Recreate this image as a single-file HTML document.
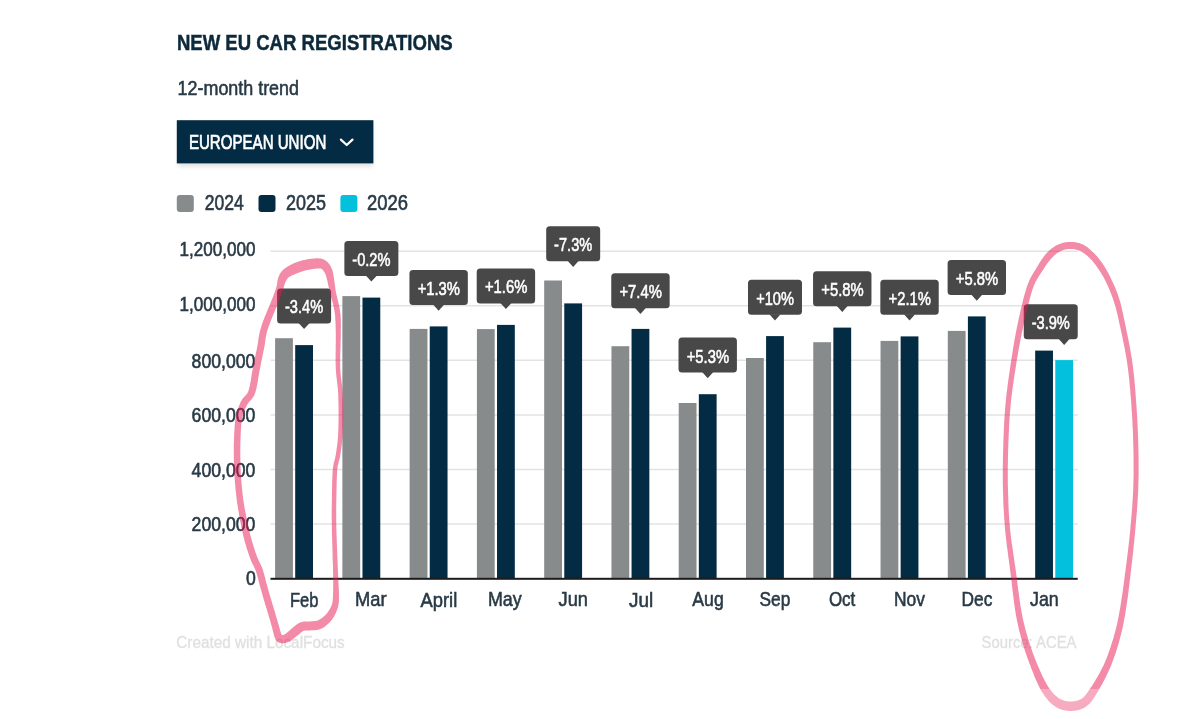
<!DOCTYPE html>
<html><head><meta charset="utf-8"><title>New EU car registrations</title>
<style>
html,body{margin:0;padding:0;background:#fff;width:1200px;height:719px;overflow:hidden}
svg{display:block;font-family:"Liberation Sans",sans-serif;will-change:transform}
</style></head><body>
<svg width="1200" height="719" viewBox="0 0 1200 719">
<rect width="1200" height="719" fill="#ffffff"/>
<text x="176.90" y="49.70" font-size="22.5" fill="#0d2a3c" font-weight="bold" stroke="#0d2a3c" stroke-width="0.5" textLength="275.80" lengthAdjust="spacingAndGlyphs">NEW EU CAR REGISTRATIONS</text>
<text x="177.60" y="94.70" font-size="21" fill="#283a46" font-weight="normal" stroke="#283a46" stroke-width="0.6" textLength="121.40" lengthAdjust="spacingAndGlyphs">12-month trend</text>
<defs><filter id="sh" x="-10%" y="-30%" width="120%" height="160%"><feGaussianBlur stdDeviation="2"/></filter></defs>
<rect x="178" y="124" width="195" height="43" fill="#000" opacity="0.10" filter="url(#sh)"/>
<rect x="176.8" y="120.2" width="196.6" height="43.2" fill="#032c44"/>
<text x="188.90" y="149.00" font-size="19.6" fill="#ffffff" font-weight="normal" stroke="#ffffff" stroke-width="0.7" textLength="137.40" lengthAdjust="spacingAndGlyphs">EUROPEAN UNION</text>
<path d="M340.9 139.6 L346.7 145.0 L352.5 139.6" fill="none" stroke="#ffffff" stroke-width="2.2" stroke-linecap="round" stroke-linejoin="round"/>
<rect x="176.8" y="195.1" width="17" height="17" rx="3" fill="#888b8c"/>
<rect x="258.5" y="195.1" width="17" height="17" rx="3" fill="#032c44"/>
<rect x="340.4" y="195.1" width="17" height="17" rx="3" fill="#03c1dc"/>
<text x="204.70" y="209.70" font-size="21.5" fill="#293a46" font-weight="normal" stroke="#293a46" stroke-width="0.6" textLength="39.00" lengthAdjust="spacingAndGlyphs">2024</text>
<text x="286.10" y="209.70" font-size="21.5" fill="#293a46" font-weight="normal" stroke="#293a46" stroke-width="0.6" textLength="40.00" lengthAdjust="spacingAndGlyphs">2025</text>
<text x="367.00" y="209.70" font-size="21.5" fill="#293a46" font-weight="normal" stroke="#293a46" stroke-width="0.6" textLength="41.00" lengthAdjust="spacingAndGlyphs">2026</text>
<line x1="270.5" y1="251.30" x2="1077.74" y2="251.30" stroke="#e3e3e3" stroke-width="1.5"/>
<line x1="270.5" y1="305.83" x2="1077.74" y2="305.83" stroke="#e3e3e3" stroke-width="1.5"/>
<line x1="270.5" y1="360.36" x2="1077.74" y2="360.36" stroke="#e3e3e3" stroke-width="1.5"/>
<line x1="270.5" y1="414.89" x2="1077.74" y2="414.89" stroke="#e3e3e3" stroke-width="1.5"/>
<line x1="270.5" y1="469.42" x2="1077.74" y2="469.42" stroke="#e3e3e3" stroke-width="1.5"/>
<line x1="270.5" y1="523.95" x2="1077.74" y2="523.95" stroke="#e3e3e3" stroke-width="1.5"/>
<text x="179.40" y="256.40" font-size="20.3" fill="#293a46" font-weight="normal" stroke="#293a46" stroke-width="0.6" textLength="76.00" lengthAdjust="spacingAndGlyphs">1,200,000</text>
<text x="179.40" y="310.99" font-size="20.3" fill="#293a46" font-weight="normal" stroke="#293a46" stroke-width="0.6" textLength="76.00" lengthAdjust="spacingAndGlyphs">1,000,000</text>
<text x="191.60" y="367.70" font-size="20.3" fill="#293a46" font-weight="normal" stroke="#293a46" stroke-width="0.6" textLength="63.80" lengthAdjust="spacingAndGlyphs">800,000</text>
<text x="191.60" y="422.29" font-size="20.3" fill="#293a46" font-weight="normal" stroke="#293a46" stroke-width="0.6" textLength="63.80" lengthAdjust="spacingAndGlyphs">600,000</text>
<text x="191.60" y="476.88" font-size="20.3" fill="#293a46" font-weight="normal" stroke="#293a46" stroke-width="0.6" textLength="63.80" lengthAdjust="spacingAndGlyphs">400,000</text>
<text x="191.60" y="531.47" font-size="20.3" fill="#293a46" font-weight="normal" stroke="#293a46" stroke-width="0.6" textLength="63.80" lengthAdjust="spacingAndGlyphs">200,000</text>
<text x="246.10" y="585.00" font-size="20.3" fill="#293a46" font-weight="normal" stroke="#293a46" stroke-width="0.6" textLength="9.80" lengthAdjust="spacingAndGlyphs">0</text>
<rect x="275.10" y="338.20" width="17.8" height="239.80" fill="#888b8c"/>
<rect x="295.20" y="345.10" width="17.8" height="232.90" fill="#032c44"/>
<rect x="342.37" y="296.10" width="17.8" height="281.90" fill="#888b8c"/>
<rect x="362.47" y="297.60" width="17.8" height="280.40" fill="#032c44"/>
<rect x="409.64" y="328.90" width="17.8" height="249.10" fill="#888b8c"/>
<rect x="429.74" y="326.40" width="17.8" height="251.60" fill="#032c44"/>
<rect x="476.91" y="329.10" width="17.8" height="248.90" fill="#888b8c"/>
<rect x="497.01" y="324.90" width="17.8" height="253.10" fill="#032c44"/>
<rect x="544.18" y="280.50" width="17.8" height="297.50" fill="#888b8c"/>
<rect x="564.28" y="303.40" width="17.8" height="274.60" fill="#032c44"/>
<rect x="611.45" y="346.20" width="17.8" height="231.80" fill="#888b8c"/>
<rect x="631.55" y="328.90" width="17.8" height="249.10" fill="#032c44"/>
<rect x="678.72" y="403.00" width="17.8" height="175.00" fill="#888b8c"/>
<rect x="698.82" y="394.20" width="17.8" height="183.80" fill="#032c44"/>
<rect x="745.99" y="358.00" width="17.8" height="220.00" fill="#888b8c"/>
<rect x="766.09" y="336.10" width="17.8" height="241.90" fill="#032c44"/>
<rect x="813.26" y="342.20" width="17.8" height="235.80" fill="#888b8c"/>
<rect x="833.36" y="327.60" width="17.8" height="250.40" fill="#032c44"/>
<rect x="880.53" y="340.90" width="17.8" height="237.10" fill="#888b8c"/>
<rect x="900.63" y="336.40" width="17.8" height="241.60" fill="#032c44"/>
<rect x="947.80" y="330.90" width="17.8" height="247.10" fill="#888b8c"/>
<rect x="967.90" y="316.40" width="17.8" height="261.60" fill="#032c44"/>
<rect x="1035.17" y="350.60" width="17.8" height="227.40" fill="#032c44"/>
<rect x="1055.27" y="360.10" width="17.8" height="217.90" fill="#03c1dc"/>
<rect x="270.5" y="577.8" width="807.24" height="2" fill="#1c1c1c"/>
<text x="290.00" y="606.60" font-size="21" fill="#293a46" font-weight="normal" stroke="#293a46" stroke-width="0.6" textLength="28.40" lengthAdjust="spacingAndGlyphs">Feb</text>
<text x="354.90" y="605.60" font-size="21" fill="#293a46" font-weight="normal" stroke="#293a46" stroke-width="0.6" textLength="31.60" lengthAdjust="spacingAndGlyphs">Mar</text>
<text x="420.50" y="606.60" font-size="21" fill="#293a46" font-weight="normal" stroke="#293a46" stroke-width="0.6" textLength="36.80" lengthAdjust="spacingAndGlyphs">April</text>
<text x="487.90" y="605.60" font-size="21" fill="#293a46" font-weight="normal" stroke="#293a46" stroke-width="0.6" textLength="33.80" lengthAdjust="spacingAndGlyphs">May</text>
<text x="558.60" y="605.60" font-size="21" fill="#293a46" font-weight="normal" stroke="#293a46" stroke-width="0.6" textLength="29.40" lengthAdjust="spacingAndGlyphs">Jun</text>
<text x="629.10" y="606.60" font-size="21" fill="#293a46" font-weight="normal" stroke="#293a46" stroke-width="0.6" textLength="24.20" lengthAdjust="spacingAndGlyphs">Jul</text>
<text x="692.30" y="605.60" font-size="21" fill="#293a46" font-weight="normal" stroke="#293a46" stroke-width="0.6" textLength="31.40" lengthAdjust="spacingAndGlyphs">Aug</text>
<text x="759.50" y="605.60" font-size="21" fill="#293a46" font-weight="normal" stroke="#293a46" stroke-width="0.6" textLength="30.80" lengthAdjust="spacingAndGlyphs">Sep</text>
<text x="828.90" y="605.60" font-size="21" fill="#293a46" font-weight="normal" stroke="#293a46" stroke-width="0.6" textLength="26.40" lengthAdjust="spacingAndGlyphs">Oct</text>
<text x="894.00" y="605.60" font-size="21" fill="#293a46" font-weight="normal" stroke="#293a46" stroke-width="0.6" textLength="31.00" lengthAdjust="spacingAndGlyphs">Nov</text>
<text x="961.50" y="605.60" font-size="21" fill="#293a46" font-weight="normal" stroke="#293a46" stroke-width="0.6" textLength="30.80" lengthAdjust="spacingAndGlyphs">Dec</text>
<text x="1030.00" y="605.60" font-size="21" fill="#293a46" font-weight="normal" stroke="#293a46" stroke-width="0.6" textLength="28.80" lengthAdjust="spacingAndGlyphs">Jan</text>
<rect x="277.10" y="288.40" width="54.0" height="35.0" rx="3.5" fill="#484848"/>
<path d="M298.50 322.90 L304.10 329.10 L309.70 322.90 Z" fill="#484848"/>
<text x="285.00" y="313.30" font-size="17.7" fill="#ffffff" font-weight="normal" stroke="#ffffff" stroke-width="0.55" textLength="38.20" lengthAdjust="spacingAndGlyphs">-3.4%</text>
<rect x="344.37" y="240.90" width="54.0" height="35.0" rx="3.5" fill="#484848"/>
<path d="M365.77 275.40 L371.37 281.60 L376.97 275.40 Z" fill="#484848"/>
<text x="352.27" y="265.80" font-size="17.7" fill="#ffffff" font-weight="normal" stroke="#ffffff" stroke-width="0.55" textLength="38.20" lengthAdjust="spacingAndGlyphs">-0.2%</text>
<rect x="409.44" y="270.00" width="58.4" height="35.0" rx="3.5" fill="#484848"/>
<path d="M433.04 304.50 L438.64 310.70 L444.24 304.50 Z" fill="#484848"/>
<text x="417.64" y="294.90" font-size="17.7" fill="#ffffff" font-weight="normal" stroke="#ffffff" stroke-width="0.55" textLength="42.40" lengthAdjust="spacingAndGlyphs">+1.3%</text>
<rect x="476.71" y="268.40" width="58.4" height="35.0" rx="3.5" fill="#484848"/>
<path d="M500.31 302.90 L505.91 309.10 L511.51 302.90 Z" fill="#484848"/>
<text x="484.91" y="293.30" font-size="17.7" fill="#ffffff" font-weight="normal" stroke="#ffffff" stroke-width="0.55" textLength="42.40" lengthAdjust="spacingAndGlyphs">+1.6%</text>
<rect x="546.18" y="226.30" width="54.0" height="35.0" rx="3.5" fill="#484848"/>
<path d="M567.58 260.80 L573.18 267.00 L578.78 260.80 Z" fill="#484848"/>
<text x="554.08" y="251.20" font-size="17.7" fill="#ffffff" font-weight="normal" stroke="#ffffff" stroke-width="0.55" textLength="38.20" lengthAdjust="spacingAndGlyphs">-7.3%</text>
<rect x="611.25" y="273.20" width="58.4" height="35.0" rx="3.5" fill="#484848"/>
<path d="M634.85 307.70 L640.45 313.90 L646.05 307.70 Z" fill="#484848"/>
<text x="619.45" y="298.10" font-size="17.7" fill="#ffffff" font-weight="normal" stroke="#ffffff" stroke-width="0.55" textLength="42.40" lengthAdjust="spacingAndGlyphs">+7.4%</text>
<rect x="678.52" y="337.60" width="58.4" height="35.0" rx="3.5" fill="#484848"/>
<path d="M702.12 372.10 L707.72 378.30 L713.32 372.10 Z" fill="#484848"/>
<text x="686.72" y="362.50" font-size="17.7" fill="#ffffff" font-weight="normal" stroke="#ffffff" stroke-width="0.55" textLength="42.40" lengthAdjust="spacingAndGlyphs">+5.3%</text>
<rect x="747.99" y="279.70" width="54.0" height="35.0" rx="3.5" fill="#484848"/>
<path d="M769.39 314.20 L774.99 320.40 L780.59 314.20 Z" fill="#484848"/>
<text x="756.19" y="304.60" font-size="17.7" fill="#ffffff" font-weight="normal" stroke="#ffffff" stroke-width="0.55" textLength="37.80" lengthAdjust="spacingAndGlyphs">+10%</text>
<rect x="813.06" y="271.30" width="58.4" height="35.0" rx="3.5" fill="#484848"/>
<path d="M836.66 305.80 L842.26 312.00 L847.86 305.80 Z" fill="#484848"/>
<text x="821.26" y="296.20" font-size="17.7" fill="#ffffff" font-weight="normal" stroke="#ffffff" stroke-width="0.55" textLength="42.40" lengthAdjust="spacingAndGlyphs">+5.8%</text>
<rect x="880.33" y="279.70" width="58.4" height="35.0" rx="3.5" fill="#484848"/>
<path d="M903.93 314.20 L909.53 320.40 L915.13 314.20 Z" fill="#484848"/>
<text x="888.53" y="304.60" font-size="17.7" fill="#ffffff" font-weight="normal" stroke="#ffffff" stroke-width="0.55" textLength="42.40" lengthAdjust="spacingAndGlyphs">+2.1%</text>
<rect x="947.60" y="260.00" width="58.4" height="35.0" rx="3.5" fill="#484848"/>
<path d="M971.20 294.50 L976.80 300.70 L982.40 294.50 Z" fill="#484848"/>
<text x="955.80" y="284.90" font-size="17.7" fill="#ffffff" font-weight="normal" stroke="#ffffff" stroke-width="0.55" textLength="42.40" lengthAdjust="spacingAndGlyphs">+5.8%</text>
<rect x="1023.74" y="304.20" width="54.0" height="35.0" rx="3.5" fill="#484848"/>
<path d="M1058.57 338.70 L1064.17 344.90 L1069.77 338.70 Z" fill="#484848"/>
<text x="1031.64" y="329.10" font-size="17.7" fill="#ffffff" font-weight="normal" stroke="#ffffff" stroke-width="0.55" textLength="38.20" lengthAdjust="spacingAndGlyphs">-3.9%</text>
<text x="176.30" y="648.00" font-size="17.4" fill="#e0e0e0" font-weight="normal" stroke="#e0e0e0" stroke-width="0.3" textLength="168.40" lengthAdjust="spacingAndGlyphs">Created with LocalFocus</text>
<text x="981.50" y="647.50" font-size="17.4" fill="#e0e0e0" font-weight="normal" stroke="#e0e0e0" stroke-width="0.3" textLength="95.00" lengthAdjust="spacingAndGlyphs">Source: ACEA</text>
<defs><clipPath id="cTop"><rect x="0" y="0" width="1200" height="689"/></clipPath><clipPath id="cBot"><rect x="0" y="689" width="1200" height="40"/></clipPath></defs>
<g stroke="none">
<path fill="rgb(229,21,82)" fill-opacity="0.5" d="M240.4 441.2 L240.5 439.3 L240.6 437.4 L240.6 435.5 L240.7 433.6 L240.8 431.7 L240.9 429.8 L241.0 427.9 L241.2 426.1 L241.3 424.3 L241.5 422.6 L241.7 421.0 L242.0 419.5 L242.3 418.0 L242.6 416.6 L243.0 415.3 L243.3 414.0 L243.7 412.7 L244.2 411.5 L244.6 410.3 L245.1 409.2 L245.5 408.1 L246.0 407.0 L246.5 405.9 L247.0 404.9 L247.5 404.1 L247.9 403.4 L248.5 402.7 L249.0 402.0 L249.7 401.3 L250.4 400.6 L251.2 399.7 L252.0 398.7 L252.8 397.6 L253.6 396.4 L254.3 395.0 L255.0 393.4 L255.5 391.8 L256.0 390.0 L256.5 388.2 L256.8 386.3 L257.2 384.4 L257.6 382.4 L257.9 380.4 L258.2 378.4 L258.5 376.4 L258.9 374.4 L259.2 372.5 L259.5 370.7 L259.9 368.8 L260.3 367.0 L260.7 365.1 L261.0 363.2 L261.4 361.3 L261.8 359.5 L262.2 357.6 L262.6 355.7 L262.9 353.9 L263.3 352.1 L263.7 350.3 L264.0 348.5 L264.4 346.7 L264.7 345.0 L264.9 343.4 L265.1 341.8 L265.4 340.3 L265.6 338.8 L265.8 337.2 L266.1 335.7 L266.5 334.1 L266.8 332.5 L267.3 330.8 L267.8 328.9 L268.5 326.9 L269.3 324.7 L270.2 322.4 L271.1 319.9 L272.2 317.4 L273.2 314.8 L274.3 312.3 L275.3 309.8 L276.3 307.4 L277.2 305.2 L278.0 303.1 L278.8 301.3 L279.4 299.7 L279.9 298.2 L280.4 297.0 L280.8 295.8 L281.1 294.8 L281.4 293.8 L281.7 293.0 L282.0 292.1 L282.3 291.3 L282.6 290.5 L282.8 289.7 L283.1 288.9 L283.5 287.9 L283.8 287.0 L284.0 286.2 L284.3 285.4 L284.5 284.6 L284.8 283.9 L285.0 283.2 L285.2 282.6 L285.5 282.1 L285.7 281.6 L285.9 281.2 L286.2 280.7 L286.5 280.3 L286.8 279.8 L287.0 279.3 L287.3 278.9 L287.5 278.6 L287.8 278.3 L288.0 278.1 L288.2 277.8 L288.5 277.6 L288.8 277.3 L289.2 277.0 L289.6 276.8 L290.1 276.5 L290.7 276.1 L291.3 275.8 L292.0 275.4 L292.8 275.1 L293.6 274.7 L294.4 274.4 L295.2 274.0 L296.1 273.7 L297.0 273.3 L297.8 273.0 L298.6 272.7 L299.4 272.4 L300.3 272.1 L301.1 271.8 L301.9 271.6 L302.8 271.3 L303.6 271.0 L304.5 270.8 L305.4 270.6 L306.2 270.3 L307.1 270.1 L308.0 269.9 L308.8 269.8 L309.7 269.6 L310.6 269.4 L311.5 269.2 L312.5 269.1 L313.4 268.9 L314.3 268.8 L315.2 268.7 L316.1 268.6 L316.9 268.5 L317.6 268.4 L318.2 268.4 L318.8 268.4 L319.2 268.4 L319.6 268.4 L319.9 268.4 L320.1 268.4 L320.3 268.4 L320.4 268.4 L320.5 268.4 L320.6 268.5 L320.8 268.5 L321.0 268.6 L321.3 268.8 L321.6 268.9 L321.8 269.1 L322.1 269.3 L322.3 269.5 L322.6 269.7 L322.9 270.0 L323.1 270.3 L323.4 270.7 L323.7 271.1 L323.9 271.5 L324.2 271.9 L324.5 272.3 L324.7 272.8 L325.0 273.2 L325.2 273.7 L325.4 274.2 L325.6 274.7 L325.8 275.2 L326.0 275.8 L326.1 276.4 L326.3 277.1 L326.5 277.8 L326.7 278.6 L327.0 279.4 L327.2 280.2 L327.4 281.1 L327.6 282.0 L327.8 282.9 L328.0 284.0 L328.3 285.0 L328.5 286.1 L328.7 287.2 L329.0 288.4 L329.2 289.5 L329.4 290.7 L329.7 291.8 L330.0 292.9 L330.3 294.1 L330.6 295.2 L330.9 296.4 L331.2 297.5 L331.5 298.6 L331.8 299.8 L332.2 300.9 L332.5 302.0 L332.8 303.1 L333.0 304.1 L333.3 305.2 L333.5 306.2 L333.7 307.1 L333.9 308.0 L334.1 308.9 L334.2 309.7 L334.4 310.5 L334.5 311.3 L334.6 312.1 L334.8 312.9 L334.9 313.8 L335.0 314.7 L335.1 315.8 L335.2 316.9 L335.2 318.1 L335.3 319.3 L335.4 320.5 L335.5 321.8 L335.5 323.1 L335.6 324.5 L335.6 326.0 L335.7 327.6 L335.7 329.2 L335.7 331.0 L335.8 332.9 L335.8 335.0 L335.8 337.2 L335.8 339.7 L335.8 342.3 L335.7 345.1 L335.7 348.0 L335.7 350.9 L335.6 353.9 L335.6 356.9 L335.6 359.8 L335.6 362.7 L335.7 365.5 L335.8 368.1 L335.9 370.6 L336.1 372.9 L336.3 375.1 L336.5 377.3 L336.8 379.4 L337.0 381.5 L337.3 383.6 L337.5 385.7 L337.8 387.9 L338.0 390.1 L338.1 392.5 L338.3 395.1 L338.3 397.9 L338.4 400.9 L338.5 404.0 L338.5 407.3 L338.6 410.7 L338.6 414.0 L338.6 417.4 L338.5 420.7 L338.5 423.9 L338.4 426.9 L338.3 429.8 L338.3 432.4 L338.1 434.8 L338.0 437.0 L337.8 439.2 L337.6 441.2 L337.4 443.1 L337.2 444.9 L337.0 446.6 L336.7 448.3 L336.5 449.9 L336.3 451.5 L336.0 453.1 L335.8 454.7 L335.5 456.1 L335.3 457.3 L335.0 458.4 L334.8 459.4 L334.5 460.4 L334.2 461.4 L333.9 462.5 L333.7 463.7 L333.4 465.0 L333.2 466.4 L332.9 468.0 L332.8 469.8 L332.6 471.8 L332.5 474.0 L332.4 476.4 L332.3 478.9 L332.2 481.5 L332.1 484.2 L332.1 486.9 L332.0 489.6 L332.0 492.3 L331.9 495.0 L331.9 497.5 L331.9 500.0 L331.8 502.3 L331.8 504.4 L331.8 506.5 L331.7 508.5 L331.7 510.5 L331.7 512.5 L331.7 514.6 L331.7 516.8 L331.7 519.1 L331.8 521.6 L331.8 524.3 L331.9 527.2 L331.9 530.6 L332.0 534.3 L332.1 538.3 L332.2 542.5 L332.4 546.9 L332.5 551.3 L332.6 555.8 L332.7 560.1 L332.9 564.2 L333.0 568.0 L333.0 571.5 L333.1 574.6 L333.1 577.3 L333.2 579.7 L333.2 581.8 L333.2 583.8 L333.2 585.5 L333.2 587.1 L333.2 588.6 L333.2 590.0 L333.1 591.3 L333.1 592.5 L333.0 593.7 L333.0 595.0 L333.0 596.2 L332.9 597.2 L332.9 598.2 L332.8 599.0 L332.8 599.8 L332.7 600.5 L332.6 601.1 L332.6 601.7 L332.4 602.3 L332.3 602.9 L332.2 603.5 L332.0 604.2 L331.7 604.9 L331.5 605.6 L331.2 606.3 L330.9 607.0 L330.5 607.7 L330.2 608.4 L329.8 609.1 L329.4 609.7 L329.0 610.4 L328.6 611.0 L328.2 611.6 L327.8 612.2 L327.4 612.7 L327.0 613.3 L326.6 613.8 L326.1 614.2 L325.7 614.7 L325.2 615.2 L324.8 615.6 L324.3 616.1 L323.8 616.5 L323.3 616.9 L322.8 617.3 L322.3 617.7 L321.8 618.0 L321.4 618.4 L320.9 618.7 L320.4 619.0 L320.0 619.3 L319.5 619.6 L319.1 619.8 L318.7 620.0 L318.3 620.2 L317.8 620.4 L317.4 620.6 L317.0 620.7 L316.6 620.8 L316.2 620.9 L315.8 621.0 L315.2 621.0 L314.6 621.1 L314.0 621.1 L313.4 621.2 L312.7 621.2 L311.9 621.3 L311.2 621.3 L310.4 621.4 L309.6 621.4 L309.0 621.5 L308.4 621.5 L307.8 621.5 L307.1 621.5 L306.4 621.5 L305.6 621.5 L304.8 621.6 L303.9 621.6 L303.0 621.8 L302.1 621.9 L301.1 622.2 L300.1 622.5 L299.1 622.9 L298.3 623.4 L297.4 623.9 L296.7 624.4 L296.0 624.9 L295.4 625.4 L294.8 625.9 L294.2 626.4 L293.7 626.9 L293.2 627.3 L292.7 627.7 L292.2 628.2 L291.6 628.7 L290.9 629.2 L290.3 629.8 L289.6 630.4 L289.0 630.9 L288.4 631.5 L287.8 632.0 L287.2 632.5 L286.7 633.0 L286.2 633.3 L285.8 633.7 L285.4 633.9 L285.0 634.1 L284.6 634.3 L284.3 634.5 L283.9 634.7 L283.6 634.8 L283.3 634.9 L283.0 635.0 L282.7 635.1 L282.5 635.1 L282.3 635.2 L282.2 635.2 L282.0 635.2 L281.8 635.2 L281.5 635.2 L281.5 635.2 L281.5 635.3 L281.7 635.4 L282.0 635.5 L282.2 635.7 L282.3 635.8 L282.3 635.8 L282.2 635.7 L282.0 635.5 L281.8 635.1 L281.6 634.7 L281.3 634.1 L281.1 633.4 L280.8 632.5 L280.5 631.6 L280.2 630.6 L279.9 629.6 L279.6 628.5 L279.3 627.4 L279.0 626.3 L278.7 625.2 L278.4 624.0 L278.0 622.9 L277.7 621.8 L277.4 620.6 L277.0 619.4 L276.7 618.2 L276.3 616.9 L275.9 615.7 L275.6 614.5 L275.2 613.3 L274.9 612.1 L274.6 611.0 L274.3 609.9 L273.9 608.9 L273.6 607.9 L273.4 607.0 L273.1 606.1 L272.8 605.2 L272.5 604.3 L272.3 603.5 L272.0 602.6 L271.7 601.7 L271.5 600.8 L271.2 599.8 L270.9 598.8 L270.5 597.7 L270.2 596.6 L269.9 595.4 L269.5 594.2 L269.2 592.9 L268.8 591.7 L268.5 590.4 L268.1 589.1 L267.7 587.9 L267.4 586.6 L267.0 585.3 L266.7 584.1 L266.3 582.9 L266.0 581.6 L265.7 580.4 L265.4 579.1 L265.1 577.8 L264.7 576.5 L264.4 575.3 L264.1 574.0 L263.7 572.7 L263.3 571.4 L262.9 570.1 L262.5 568.8 L262.0 567.6 L261.5 566.4 L261.0 565.3 L260.5 564.2 L260.0 563.2 L259.5 562.2 L259.0 561.2 L258.5 560.2 L258.1 559.1 L257.6 558.0 L257.1 556.8 L256.6 555.5 L256.1 554.1 L255.5 552.5 L255.0 550.9 L254.5 549.3 L253.9 547.6 L253.4 545.8 L252.8 544.0 L252.3 542.2 L251.7 540.3 L251.2 538.3 L250.6 536.3 L250.1 534.2 L249.6 532.0 L249.0 529.7 L248.5 527.2 L247.9 524.7 L247.4 522.2 L246.8 519.6 L246.3 516.9 L245.8 514.3 L245.3 511.8 L244.8 509.2 L244.4 506.8 L244.0 504.5 L243.7 502.2 L243.3 500.0 L243.0 497.8 L242.8 495.6 L242.5 493.5 L242.3 491.3 L242.1 489.3 L241.9 487.2 L241.7 485.3 L241.5 483.3 L241.4 481.5 L241.2 479.7 L241.1 478.1 L241.0 476.6 L240.9 475.2 L240.8 473.8 L240.7 472.6 L240.7 471.3 L240.6 470.1 L240.6 468.9 L240.5 467.6 L240.5 466.2 L240.5 464.8 L240.4 463.2 L240.4 461.6 L240.4 459.9 L240.4 458.1 L240.3 456.3 L240.3 454.4 L240.3 452.5 L240.3 450.6 L240.3 448.7 L240.3 446.8 L240.3 444.9 L240.4 443.1 Z M233.9 442.9 L233.8 444.8 L233.8 446.7 L233.8 448.7 L233.8 450.6 L233.8 452.6 L233.8 454.5 L233.8 456.3 L233.9 458.2 L233.9 460.0 L233.9 461.7 L234.0 463.4 L234.0 464.9 L234.0 466.4 L234.0 467.8 L234.1 469.1 L234.1 470.3 L234.2 471.6 L234.2 472.9 L234.3 474.2 L234.4 475.6 L234.5 477.0 L234.6 478.6 L234.8 480.3 L234.9 482.1 L235.1 483.9 L235.3 485.8 L235.4 487.8 L235.6 489.9 L235.9 492.0 L236.1 494.2 L236.4 496.4 L236.6 498.6 L236.9 500.9 L237.2 503.2 L237.6 505.5 L238.0 507.9 L238.4 510.4 L238.8 512.9 L239.2 515.5 L239.7 518.2 L240.2 520.9 L240.7 523.5 L241.2 526.1 L241.7 528.7 L242.3 531.2 L242.8 533.6 L243.3 535.8 L243.8 538.0 L244.4 540.1 L244.9 542.2 L245.5 544.1 L246.1 546.1 L246.6 547.9 L247.2 549.7 L247.8 551.5 L248.4 553.2 L248.9 554.8 L249.5 556.4 L250.0 557.9 L250.6 559.4 L251.1 560.7 L251.7 562.0 L252.2 563.2 L252.8 564.3 L253.3 565.3 L253.8 566.3 L254.2 567.3 L254.7 568.2 L255.1 569.2 L255.5 570.1 L255.9 571.2 L256.3 572.3 L256.6 573.4 L257.0 574.6 L257.3 575.8 L257.6 577.0 L258.0 578.3 L258.3 579.5 L258.6 580.8 L258.9 582.1 L259.2 583.4 L259.6 584.7 L259.9 585.9 L260.3 587.2 L260.6 588.5 L261.0 589.7 L261.4 591.0 L261.7 592.3 L262.1 593.6 L262.4 594.9 L262.8 596.1 L263.1 597.3 L263.5 598.5 L263.8 599.7 L264.1 600.8 L264.5 601.8 L264.8 602.8 L265.0 603.8 L265.3 604.7 L265.6 605.6 L265.9 606.4 L266.1 607.3 L266.4 608.2 L266.7 609.0 L267.0 609.9 L267.2 610.9 L267.5 611.9 L267.9 613.0 L268.2 614.1 L268.5 615.2 L268.9 616.4 L269.2 617.7 L269.6 618.9 L270.0 620.1 L270.3 621.3 L270.7 622.5 L271.0 623.7 L271.3 624.9 L271.6 626.0 L271.9 627.0 L272.2 628.1 L272.5 629.2 L272.7 630.3 L273.0 631.4 L273.3 632.5 L273.5 633.6 L273.8 634.6 L274.1 635.6 L274.3 636.5 L274.7 637.4 L275.0 638.3 L275.3 639.0 L275.7 639.7 L276.1 640.3 L276.6 640.9 L277.2 641.5 L277.8 642.1 L278.6 642.5 L279.3 642.8 L279.9 642.9 L280.5 643.1 L280.9 643.1 L281.4 643.2 L282.0 643.2 L282.7 643.3 L283.3 643.2 L284.0 643.2 L284.7 643.1 L285.4 642.9 L286.1 642.7 L286.8 642.5 L287.5 642.3 L288.2 642.0 L288.9 641.7 L289.6 641.3 L290.4 640.9 L291.1 640.4 L291.9 639.9 L292.6 639.3 L293.3 638.8 L294.0 638.2 L294.7 637.7 L295.4 637.1 L296.0 636.6 L296.6 636.1 L297.2 635.7 L297.8 635.2 L298.4 634.7 L299.1 634.2 L299.7 633.7 L300.2 633.2 L300.7 632.7 L301.2 632.3 L301.6 632.0 L302.1 631.7 L302.4 631.4 L302.7 631.2 L303.0 631.0 L303.3 630.9 L303.6 630.8 L303.9 630.7 L304.3 630.7 L304.8 630.6 L305.3 630.6 L305.9 630.5 L306.5 630.5 L307.2 630.5 L308.0 630.5 L308.8 630.5 L309.6 630.4 L310.4 630.4 L311.0 630.3 L311.7 630.3 L312.3 630.3 L313.1 630.2 L313.8 630.2 L314.6 630.2 L315.4 630.1 L316.2 630.0 L317.1 629.9 L318.0 629.8 L318.9 629.6 L319.8 629.3 L320.6 629.0 L321.4 628.6 L322.2 628.3 L322.9 627.9 L323.6 627.5 L324.3 627.0 L324.9 626.6 L325.5 626.1 L326.1 625.6 L326.7 625.1 L327.3 624.6 L327.9 624.1 L328.4 623.6 L329.0 623.0 L329.6 622.4 L330.1 621.8 L330.7 621.2 L331.2 620.6 L331.7 619.9 L332.3 619.2 L332.8 618.5 L333.2 617.7 L333.7 617.0 L334.2 616.2 L334.6 615.4 L335.0 614.6 L335.4 613.8 L335.8 613.0 L336.2 612.1 L336.5 611.2 L336.9 610.4 L337.2 609.5 L337.5 608.6 L337.8 607.7 L338.0 606.7 L338.2 605.8 L338.4 605.0 L338.6 604.1 L338.7 603.3 L338.8 602.5 L338.9 601.7 L338.9 600.9 L339.0 600.1 L339.0 599.3 L339.0 598.3 L339.0 597.3 L339.0 596.3 L339.0 595.0 L339.0 593.8 L338.9 592.5 L338.9 591.2 L338.8 589.9 L338.8 588.5 L338.7 587.0 L338.6 585.4 L338.5 583.6 L338.4 581.7 L338.3 579.5 L338.2 577.1 L338.1 574.4 L338.0 571.4 L337.8 567.9 L337.7 564.0 L337.5 559.9 L337.3 555.6 L337.2 551.2 L337.0 546.8 L336.8 542.4 L336.7 538.2 L336.5 534.2 L336.4 530.5 L336.3 527.2 L336.3 524.2 L336.2 521.5 L336.2 519.0 L336.2 516.7 L336.2 514.6 L336.2 512.5 L336.2 510.5 L336.2 508.6 L336.2 506.6 L336.3 504.5 L336.3 502.3 L336.3 500.0 L336.4 497.6 L336.4 495.0 L336.5 492.4 L336.5 489.7 L336.6 487.0 L336.6 484.3 L336.7 481.6 L336.8 479.1 L336.9 476.6 L337.0 474.3 L337.1 472.1 L337.2 470.2 L337.4 468.5 L337.6 467.1 L337.8 465.8 L338.1 464.7 L338.3 463.6 L338.6 462.6 L338.8 461.6 L339.1 460.6 L339.4 459.5 L339.7 458.2 L340.0 456.9 L340.2 455.3 L340.5 453.8 L340.7 452.2 L340.9 450.6 L341.2 448.9 L341.4 447.2 L341.7 445.4 L341.9 443.6 L342.1 441.6 L342.3 439.6 L342.5 437.4 L342.6 435.1 L342.7 432.6 L342.8 429.9 L342.9 427.0 L343.0 424.0 L343.0 420.7 L343.1 417.4 L343.1 414.0 L343.1 410.6 L343.0 407.3 L343.0 404.0 L342.9 400.8 L342.8 397.7 L342.7 394.9 L342.6 392.3 L342.4 389.8 L342.2 387.4 L342.0 385.2 L341.7 383.0 L341.4 380.9 L341.2 378.9 L340.9 376.8 L340.7 374.7 L340.5 372.5 L340.4 370.3 L340.2 367.9 L340.2 365.4 L340.2 362.7 L340.2 359.8 L340.2 356.9 L340.3 354.0 L340.4 351.0 L340.5 348.1 L340.6 345.2 L340.6 342.4 L340.7 339.8 L340.8 337.3 L340.8 335.0 L340.8 332.9 L340.8 331.0 L340.8 329.2 L340.9 327.5 L340.9 325.9 L340.9 324.4 L340.9 323.0 L340.8 321.6 L340.8 320.3 L340.8 319.0 L340.7 317.8 L340.6 316.5 L340.6 315.3 L340.5 314.2 L340.3 313.2 L340.2 312.2 L340.1 311.3 L339.9 310.4 L339.8 309.5 L339.6 308.7 L339.5 307.8 L339.3 306.9 L339.1 306.0 L338.9 305.0 L338.7 304.0 L338.4 302.9 L338.2 301.7 L337.9 300.6 L337.6 299.5 L337.3 298.3 L337.1 297.2 L336.8 296.0 L336.5 294.9 L336.3 293.8 L336.0 292.7 L335.8 291.7 L335.6 290.6 L335.5 289.5 L335.3 288.4 L335.2 287.3 L335.0 286.2 L334.9 285.1 L334.7 284.0 L334.6 282.9 L334.5 281.8 L334.3 280.8 L334.2 279.7 L334.0 278.8 L333.9 277.9 L333.8 277.1 L333.6 276.3 L333.5 275.5 L333.4 274.8 L333.2 274.0 L333.1 273.3 L332.9 272.5 L332.8 271.8 L332.6 271.1 L332.3 270.3 L332.1 269.6 L331.8 268.9 L331.5 268.2 L331.2 267.6 L330.9 266.9 L330.6 266.2 L330.2 265.6 L329.8 265.0 L329.4 264.3 L328.9 263.7 L328.4 263.1 L327.9 262.6 L327.4 262.1 L326.9 261.6 L326.4 261.2 L325.9 260.8 L325.3 260.4 L324.7 260.0 L324.0 259.6 L323.3 259.3 L322.5 259.0 L321.8 258.8 L320.9 258.6 L320.1 258.5 L319.2 258.4 L318.3 258.3 L317.3 258.3 L316.3 258.3 L315.3 258.4 L314.2 258.5 L313.2 258.5 L312.1 258.7 L311.0 258.8 L309.9 258.9 L308.8 259.1 L307.8 259.3 L306.8 259.4 L305.8 259.6 L304.8 259.9 L303.8 260.1 L302.7 260.3 L301.7 260.6 L300.7 260.9 L299.7 261.2 L298.7 261.5 L297.7 261.8 L296.7 262.2 L295.7 262.5 L294.8 262.9 L293.8 263.3 L292.9 263.8 L291.9 264.2 L290.9 264.7 L290.0 265.2 L289.0 265.7 L288.1 266.3 L287.2 266.8 L286.3 267.4 L285.4 268.0 L284.6 268.6 L283.8 269.2 L283.1 269.9 L282.4 270.5 L281.8 271.2 L281.3 271.9 L280.8 272.5 L280.3 273.2 L279.9 273.9 L279.6 274.6 L279.2 275.2 L279.0 275.9 L278.7 276.5 L278.4 277.3 L278.1 278.1 L277.9 278.9 L277.7 279.8 L277.5 280.6 L277.4 281.4 L277.3 282.1 L277.2 282.9 L277.1 283.7 L277.0 284.4 L276.8 285.2 L276.7 285.9 L276.5 286.7 L276.2 287.6 L276.0 288.4 L275.7 289.2 L275.5 289.9 L275.2 290.7 L274.9 291.6 L274.6 292.5 L274.2 293.5 L273.8 294.6 L273.4 295.8 L272.8 297.2 L272.2 298.7 L271.5 300.5 L270.7 302.5 L269.8 304.7 L268.8 307.1 L267.8 309.6 L266.7 312.1 L265.7 314.7 L264.6 317.3 L263.6 319.9 L262.7 322.3 L261.9 324.7 L261.2 326.9 L260.6 328.9 L260.1 330.8 L259.6 332.6 L259.3 334.4 L259.0 336.0 L258.7 337.7 L258.4 339.2 L258.2 340.8 L258.0 342.3 L257.7 343.9 L257.5 345.5 L257.2 347.1 L256.8 348.9 L256.5 350.7 L256.1 352.5 L255.7 354.3 L255.3 356.2 L255.0 358.1 L254.6 359.9 L254.2 361.8 L253.8 363.7 L253.4 365.6 L253.0 367.5 L252.7 369.3 L252.3 371.3 L251.9 373.2 L251.6 375.2 L251.3 377.3 L251.0 379.3 L250.7 381.2 L250.3 383.1 L250.0 384.9 L249.6 386.7 L249.2 388.3 L248.8 389.7 L248.4 391.0 L248.0 392.0 L247.5 392.9 L247.0 393.7 L246.5 394.4 L245.9 395.1 L245.3 395.8 L244.6 396.5 L243.8 397.3 L243.0 398.2 L242.2 399.3 L241.5 400.5 L240.8 401.7 L240.2 403.0 L239.7 404.2 L239.2 405.4 L238.7 406.7 L238.2 408.0 L237.8 409.3 L237.3 410.7 L236.9 412.1 L236.6 413.6 L236.2 415.1 L235.9 416.7 L235.6 418.3 L235.3 420.0 L235.1 421.8 L234.9 423.7 L234.7 425.5 L234.6 427.5 L234.5 429.4 L234.3 431.4 L234.2 433.3 L234.2 435.3 L234.1 437.2 L234.0 439.1 L234.0 441.0 Z"/>
<path fill="rgb(229,21,82)" fill-opacity="0.5" clip-path="url(#cTop)" d="M1069.9 248.9 L1070.7 248.9 L1071.5 248.9 L1072.3 249.0 L1073.2 249.0 L1074.0 249.2 L1074.8 249.3 L1075.6 249.5 L1076.4 249.7 L1077.2 249.9 L1078.0 250.1 L1078.7 250.4 L1079.5 250.7 L1080.2 251.0 L1081.0 251.4 L1081.7 251.8 L1082.4 252.2 L1083.2 252.7 L1084.0 253.2 L1084.7 253.8 L1085.5 254.4 L1086.3 255.0 L1087.0 255.6 L1087.8 256.2 L1088.5 256.9 L1089.2 257.5 L1089.9 258.2 L1090.5 258.9 L1091.2 259.6 L1091.8 260.3 L1092.5 261.0 L1093.1 261.8 L1093.7 262.6 L1094.4 263.4 L1095.0 264.3 L1095.7 265.1 L1096.3 266.1 L1097.0 267.0 L1097.7 268.0 L1098.4 269.0 L1099.1 270.0 L1099.8 271.1 L1100.5 272.2 L1101.2 273.3 L1101.9 274.4 L1102.6 275.6 L1103.3 276.8 L1104.0 278.1 L1104.7 279.4 L1105.4 280.8 L1106.1 282.3 L1106.8 283.8 L1107.5 285.3 L1108.3 286.9 L1109.0 288.5 L1109.7 290.1 L1110.3 291.8 L1111.0 293.5 L1111.6 295.2 L1112.3 296.9 L1112.9 298.6 L1113.4 300.2 L1113.9 301.8 L1114.4 303.4 L1114.9 304.9 L1115.4 306.5 L1115.8 308.1 L1116.3 309.8 L1116.7 311.6 L1117.2 313.6 L1117.7 315.7 L1118.2 318.0 L1118.8 320.6 L1119.4 323.4 L1120.1 326.4 L1120.8 329.6 L1121.5 333.0 L1122.3 336.6 L1123.0 340.2 L1123.8 343.9 L1124.5 347.6 L1125.2 351.3 L1125.9 355.0 L1126.5 358.6 L1127.0 362.1 L1127.5 365.5 L1128.0 369.0 L1128.4 372.4 L1128.8 375.8 L1129.2 379.3 L1129.5 382.7 L1129.8 386.2 L1130.2 389.6 L1130.4 393.1 L1130.7 396.6 L1131.0 400.0 L1131.3 403.5 L1131.5 406.9 L1131.7 410.4 L1132.0 413.9 L1132.2 417.3 L1132.4 420.8 L1132.5 424.3 L1132.7 427.7 L1132.9 431.2 L1133.0 434.7 L1133.1 438.1 L1133.2 441.6 L1133.3 445.1 L1133.4 448.5 L1133.5 452.0 L1133.5 455.5 L1133.6 458.9 L1133.6 462.4 L1133.6 465.9 L1133.6 469.3 L1133.6 472.8 L1133.6 476.2 L1133.5 479.7 L1133.4 483.2 L1133.3 486.6 L1133.2 490.1 L1133.0 493.5 L1132.8 497.0 L1132.6 500.4 L1132.4 503.9 L1132.2 507.3 L1131.9 510.8 L1131.6 514.2 L1131.3 517.7 L1131.0 521.1 L1130.7 524.6 L1130.4 528.1 L1130.1 531.5 L1129.7 535.0 L1129.4 538.5 L1129.0 541.9 L1128.6 545.4 L1128.2 548.8 L1127.8 552.3 L1127.3 555.8 L1126.9 559.2 L1126.5 562.7 L1126.0 566.2 L1125.6 569.7 L1125.1 573.2 L1124.6 576.8 L1124.2 580.4 L1123.7 584.1 L1123.2 587.8 L1122.7 591.5 L1122.2 595.1 L1121.6 598.6 L1121.1 602.0 L1120.6 605.3 L1120.1 608.5 L1119.5 611.5 L1119.0 614.3 L1118.5 617.0 L1118.0 619.5 L1117.5 621.9 L1117.0 624.2 L1116.5 626.5 L1115.9 628.6 L1115.4 630.8 L1114.8 632.9 L1114.2 635.1 L1113.6 637.2 L1113.0 639.4 L1112.3 641.6 L1111.6 643.8 L1110.9 646.0 L1110.2 648.2 L1109.5 650.3 L1108.7 652.4 L1108.0 654.5 L1107.2 656.6 L1106.4 658.7 L1105.5 660.7 L1104.7 662.7 L1103.8 664.7 L1102.9 666.7 L1101.9 668.6 L1100.9 670.6 L1099.9 672.6 L1098.8 674.5 L1097.7 676.4 L1096.6 678.3 L1095.5 680.1 L1094.5 681.9 L1093.4 683.6 L1092.4 685.2 L1091.4 686.7 L1090.4 688.1 L1089.5 689.5 L1088.6 690.8 L1087.8 692.1 L1087.0 693.2 L1086.1 694.3 L1085.4 695.2 L1084.6 696.1 L1083.8 696.9 L1083.1 697.6 L1082.3 698.2 L1081.6 698.7 L1080.8 699.2 L1080.0 699.6 L1079.1 700.0 L1078.3 700.3 L1077.4 700.6 L1076.4 700.9 L1075.5 701.1 L1074.5 701.2 L1073.5 701.3 L1072.6 701.4 L1071.6 701.4 L1070.6 701.5 L1069.6 701.4 L1068.7 701.4 L1067.7 701.3 L1066.7 701.2 L1065.8 701.1 L1064.9 700.9 L1064.0 700.6 L1063.0 700.3 L1062.1 700.0 L1061.3 699.6 L1060.4 699.2 L1059.5 698.7 L1058.6 698.1 L1057.7 697.4 L1056.7 696.6 L1055.8 695.8 L1054.8 694.9 L1053.9 693.9 L1052.9 692.9 L1052.0 691.8 L1051.0 690.6 L1050.1 689.4 L1049.1 688.1 L1048.2 686.7 L1047.3 685.2 L1046.4 683.7 L1045.4 682.1 L1044.5 680.3 L1043.6 678.5 L1042.7 676.7 L1041.8 674.8 L1040.9 672.8 L1040.0 670.8 L1039.2 668.8 L1038.3 666.8 L1037.4 664.8 L1036.6 662.8 L1035.8 660.8 L1035.0 658.7 L1034.2 656.6 L1033.4 654.6 L1032.6 652.4 L1031.9 650.3 L1031.1 648.2 L1030.4 646.0 L1029.7 643.8 L1029.0 641.6 L1028.3 639.4 L1027.7 637.2 L1027.0 635.0 L1026.4 632.9 L1025.8 630.7 L1025.2 628.6 L1024.7 626.4 L1024.1 624.2 L1023.6 621.9 L1023.0 619.5 L1022.5 617.0 L1022.0 614.3 L1021.5 611.5 L1020.9 608.5 L1020.4 605.4 L1019.9 602.0 L1019.4 598.6 L1019.0 595.1 L1018.5 591.5 L1018.0 587.8 L1017.5 584.1 L1017.1 580.5 L1016.6 576.8 L1016.1 573.2 L1015.6 569.6 L1015.1 566.1 L1014.6 562.7 L1014.1 559.2 L1013.6 555.7 L1013.1 552.2 L1012.6 548.8 L1012.1 545.3 L1011.6 541.9 L1011.1 538.4 L1010.7 535.0 L1010.3 531.5 L1010.0 528.1 L1009.7 524.6 L1009.4 521.2 L1009.2 517.7 L1008.9 514.3 L1008.7 510.8 L1008.6 507.4 L1008.4 503.9 L1008.3 500.5 L1008.2 497.0 L1008.1 493.6 L1008.0 490.1 L1007.9 486.7 L1007.8 483.2 L1007.8 479.7 L1007.8 476.3 L1007.8 472.8 L1007.8 469.3 L1007.8 465.9 L1007.9 462.4 L1007.9 459.0 L1008.0 455.5 L1008.1 452.0 L1008.2 448.6 L1008.3 445.1 L1008.4 441.6 L1008.6 438.1 L1008.7 434.7 L1008.9 431.2 L1009.0 427.7 L1009.2 424.3 L1009.4 420.8 L1009.6 417.4 L1009.9 413.9 L1010.2 410.4 L1010.5 407.0 L1010.8 403.5 L1011.1 400.1 L1011.5 396.6 L1012.0 393.1 L1012.4 389.6 L1012.9 386.1 L1013.4 382.6 L1013.9 379.1 L1014.4 375.6 L1014.9 372.2 L1015.5 368.8 L1016.0 365.4 L1016.5 362.1 L1017.0 358.9 L1017.6 355.8 L1018.1 352.7 L1018.6 349.6 L1019.2 346.6 L1019.8 343.6 L1020.3 340.6 L1020.9 337.6 L1021.5 334.7 L1022.1 331.7 L1022.8 328.7 L1023.4 325.6 L1024.1 322.5 L1024.9 319.3 L1025.6 316.0 L1026.4 312.6 L1027.2 309.3 L1028.0 306.0 L1028.8 302.7 L1029.6 299.6 L1030.4 296.6 L1031.2 293.8 L1032.0 291.1 L1032.7 288.8 L1033.5 286.7 L1034.2 284.8 L1035.0 283.2 L1035.7 281.6 L1036.5 280.2 L1037.2 278.9 L1038.0 277.7 L1038.7 276.5 L1039.5 275.3 L1040.3 274.1 L1041.1 272.8 L1042.0 271.5 L1042.8 270.2 L1043.6 268.9 L1044.4 267.7 L1045.2 266.4 L1046.0 265.3 L1046.8 264.1 L1047.6 263.0 L1048.4 262.0 L1049.2 260.9 L1050.0 260.0 L1050.7 259.1 L1051.5 258.2 L1052.3 257.4 L1053.0 256.7 L1053.7 256.0 L1054.4 255.3 L1055.2 254.7 L1055.9 254.1 L1056.6 253.6 L1057.3 253.1 L1058.0 252.6 L1058.8 252.2 L1059.5 251.7 L1060.3 251.3 L1061.0 251.0 L1061.8 250.6 L1062.6 250.3 L1063.4 250.0 L1064.2 249.8 L1065.0 249.6 L1065.8 249.4 L1066.7 249.2 L1067.5 249.1 L1068.3 249.0 L1069.1 248.9 Z M1068.6 242.0 L1067.6 242.0 L1066.5 242.2 L1065.4 242.3 L1064.4 242.5 L1063.3 242.8 L1062.3 243.1 L1061.2 243.4 L1060.2 243.8 L1059.1 244.2 L1058.1 244.6 L1057.1 245.1 L1056.2 245.6 L1055.2 246.1 L1054.3 246.7 L1053.4 247.3 L1052.4 247.9 L1051.5 248.6 L1050.7 249.3 L1049.8 250.1 L1048.9 250.9 L1048.0 251.7 L1047.2 252.6 L1046.3 253.6 L1045.4 254.6 L1044.6 255.6 L1043.7 256.7 L1042.9 257.9 L1042.1 259.1 L1041.2 260.3 L1040.4 261.5 L1039.6 262.8 L1038.8 264.1 L1038.0 265.4 L1037.2 266.8 L1036.4 268.1 L1035.7 269.4 L1034.9 270.6 L1034.1 271.8 L1033.3 273.1 L1032.5 274.4 L1031.7 275.8 L1030.9 277.2 L1030.1 278.8 L1029.3 280.6 L1028.5 282.4 L1027.7 284.5 L1026.9 286.8 L1026.1 289.3 L1025.3 292.0 L1024.4 294.9 L1023.6 298.0 L1022.8 301.2 L1022.0 304.5 L1021.2 307.9 L1020.4 311.2 L1019.7 314.6 L1018.9 318.0 L1018.2 321.2 L1017.6 324.4 L1016.9 327.4 L1016.3 330.5 L1015.7 333.5 L1015.2 336.5 L1014.6 339.5 L1014.1 342.6 L1013.6 345.6 L1013.1 348.6 L1012.6 351.7 L1012.1 354.9 L1011.6 358.0 L1011.1 361.3 L1010.6 364.6 L1010.1 367.9 L1009.6 371.4 L1009.1 374.8 L1008.6 378.3 L1008.1 381.8 L1007.6 385.4 L1007.2 388.9 L1006.7 392.5 L1006.3 396.0 L1006.0 399.5 L1005.6 403.1 L1005.3 406.5 L1005.0 410.0 L1004.8 413.5 L1004.5 417.0 L1004.3 420.5 L1004.1 424.0 L1004.0 427.5 L1003.8 431.0 L1003.7 434.5 L1003.5 438.0 L1003.4 441.4 L1003.3 444.9 L1003.2 448.4 L1003.1 451.9 L1003.0 455.4 L1002.9 458.9 L1002.9 462.3 L1002.8 465.8 L1002.8 469.3 L1002.8 472.8 L1002.8 476.3 L1002.8 479.8 L1002.8 483.3 L1002.9 486.7 L1003.0 490.2 L1003.1 493.7 L1003.2 497.2 L1003.3 500.7 L1003.4 504.1 L1003.6 507.6 L1003.8 511.1 L1004.0 514.6 L1004.2 518.1 L1004.5 521.5 L1004.7 525.0 L1005.0 528.5 L1005.3 532.0 L1005.7 535.5 L1006.1 539.0 L1006.5 542.5 L1006.9 546.0 L1007.4 549.5 L1007.9 553.0 L1008.3 556.4 L1008.8 559.9 L1009.3 563.4 L1009.7 566.9 L1010.2 570.4 L1010.6 573.9 L1011.0 577.5 L1011.5 581.1 L1011.9 584.8 L1012.3 588.5 L1012.8 592.2 L1013.2 595.8 L1013.7 599.4 L1014.1 602.9 L1014.6 606.2 L1015.1 609.5 L1015.5 612.5 L1016.0 615.4 L1016.5 618.1 L1017.0 620.7 L1017.6 623.2 L1018.1 625.6 L1018.6 627.9 L1019.1 630.2 L1019.7 632.4 L1020.3 634.6 L1020.8 636.8 L1021.5 639.0 L1022.1 641.2 L1022.7 643.5 L1023.4 645.8 L1024.1 648.0 L1024.8 650.2 L1025.5 652.5 L1026.3 654.7 L1027.0 656.8 L1027.8 659.0 L1028.6 661.1 L1029.4 663.3 L1030.2 665.3 L1031.0 667.4 L1031.7 669.5 L1032.6 671.5 L1033.4 673.6 L1034.2 675.7 L1035.0 677.7 L1035.9 679.8 L1036.8 681.7 L1037.7 683.7 L1038.6 685.6 L1039.5 687.5 L1040.4 689.2 L1041.4 690.9 L1042.4 692.5 L1043.4 694.0 L1044.4 695.5 L1045.4 697.0 L1046.5 698.3 L1047.5 699.6 L1048.6 700.9 L1049.7 702.1 L1050.9 703.2 L1052.1 704.2 L1053.3 705.2 L1054.5 706.1 L1055.8 707.0 L1057.1 707.8 L1058.5 708.4 L1059.8 709.0 L1061.2 709.5 L1062.6 709.9 L1063.9 710.3 L1065.3 710.5 L1066.6 710.7 L1068.0 710.8 L1069.3 710.9 L1070.6 711.0 L1071.9 710.9 L1073.2 710.8 L1074.6 710.7 L1076.0 710.5 L1077.3 710.3 L1078.7 709.9 L1080.1 709.5 L1081.5 709.0 L1082.9 708.4 L1084.2 707.7 L1085.5 706.9 L1086.8 706.1 L1088.0 705.1 L1089.2 704.0 L1090.2 702.9 L1091.2 701.8 L1092.1 700.6 L1093.0 699.3 L1093.9 698.0 L1094.7 696.7 L1095.6 695.3 L1096.4 693.9 L1097.3 692.4 L1098.2 690.9 L1099.1 689.3 L1100.1 687.6 L1101.1 685.8 L1102.2 683.9 L1103.2 682.0 L1104.3 680.0 L1105.3 678.0 L1106.3 675.9 L1107.4 673.8 L1108.3 671.7 L1109.3 669.6 L1110.2 667.5 L1111.1 665.4 L1111.9 663.3 L1112.7 661.2 L1113.5 659.0 L1114.3 656.8 L1115.1 654.7 L1115.8 652.5 L1116.5 650.2 L1117.2 648.0 L1117.9 645.7 L1118.6 643.5 L1119.2 641.2 L1119.8 638.9 L1120.4 636.7 L1121.0 634.5 L1121.5 632.3 L1122.0 630.1 L1122.6 627.9 L1123.0 625.5 L1123.5 623.2 L1124.0 620.7 L1124.5 618.1 L1125.0 615.4 L1125.5 612.5 L1125.9 609.5 L1126.4 606.2 L1126.9 602.9 L1127.4 599.4 L1127.9 595.9 L1128.4 592.2 L1128.8 588.5 L1129.3 584.8 L1129.7 581.2 L1130.2 577.5 L1130.6 573.9 L1131.0 570.3 L1131.4 566.8 L1131.8 563.4 L1132.2 559.9 L1132.6 556.4 L1133.0 552.9 L1133.4 549.4 L1133.7 545.9 L1134.1 542.5 L1134.4 539.0 L1134.8 535.5 L1135.1 532.0 L1135.4 528.5 L1135.7 525.1 L1136.0 521.6 L1136.3 518.1 L1136.6 514.6 L1136.9 511.2 L1137.1 507.7 L1137.4 504.2 L1137.6 500.7 L1137.8 497.2 L1138.0 493.8 L1138.2 490.3 L1138.3 486.8 L1138.4 483.3 L1138.5 479.8 L1138.6 476.3 L1138.6 472.8 L1138.6 469.3 L1138.6 465.9 L1138.6 462.4 L1138.6 458.9 L1138.5 455.4 L1138.5 451.9 L1138.4 448.4 L1138.3 444.9 L1138.2 441.5 L1138.1 438.0 L1138.0 434.5 L1137.8 431.0 L1137.7 427.5 L1137.5 424.0 L1137.3 420.5 L1137.2 417.0 L1136.9 413.6 L1136.7 410.1 L1136.5 406.6 L1136.2 403.1 L1136.0 399.6 L1135.7 396.2 L1135.5 392.7 L1135.2 389.2 L1134.9 385.7 L1134.6 382.3 L1134.3 378.8 L1133.9 375.3 L1133.5 371.8 L1133.1 368.3 L1132.7 364.8 L1132.2 361.3 L1131.6 357.8 L1131.0 354.1 L1130.4 350.4 L1129.7 346.6 L1129.0 342.8 L1128.3 339.1 L1127.5 335.5 L1126.8 331.9 L1126.1 328.5 L1125.4 325.3 L1124.8 322.2 L1124.2 319.4 L1123.6 316.9 L1123.2 314.5 L1122.7 312.3 L1122.2 310.3 L1121.8 308.5 L1121.4 306.7 L1121.0 305.0 L1120.6 303.3 L1120.1 301.7 L1119.6 300.1 L1119.1 298.4 L1118.5 296.6 L1117.9 294.8 L1117.3 293.1 L1116.6 291.3 L1115.9 289.5 L1115.2 287.8 L1114.5 286.1 L1113.7 284.5 L1113.0 282.8 L1112.2 281.2 L1111.5 279.7 L1110.8 278.2 L1110.1 276.8 L1109.4 275.3 L1108.7 274.0 L1108.0 272.6 L1107.3 271.4 L1106.6 270.1 L1105.9 268.9 L1105.2 267.7 L1104.5 266.6 L1103.8 265.5 L1103.1 264.4 L1102.4 263.3 L1101.7 262.3 L1100.9 261.3 L1100.2 260.4 L1099.5 259.4 L1098.8 258.5 L1098.1 257.7 L1097.4 256.8 L1096.7 256.0 L1096.0 255.2 L1095.2 254.4 L1094.5 253.6 L1093.7 252.9 L1092.9 252.1 L1092.1 251.4 L1091.3 250.7 L1090.5 249.9 L1089.7 249.2 L1088.8 248.5 L1088.0 247.8 L1087.1 247.1 L1086.2 246.5 L1085.3 245.9 L1084.3 245.3 L1083.3 244.8 L1082.3 244.3 L1081.3 243.9 L1080.3 243.5 L1079.2 243.1 L1078.2 242.9 L1077.1 242.6 L1076.1 242.4 L1075.0 242.2 L1073.9 242.1 L1072.9 242.0 L1071.8 241.9 L1070.7 241.9 L1069.7 241.9 Z"/>
<path fill="rgb(229,21,82)" fill-opacity="0.36" clip-path="url(#cBot)" d="M1069.9 248.9 L1070.7 248.9 L1071.5 248.9 L1072.3 249.0 L1073.2 249.0 L1074.0 249.2 L1074.8 249.3 L1075.6 249.5 L1076.4 249.7 L1077.2 249.9 L1078.0 250.1 L1078.7 250.4 L1079.5 250.7 L1080.2 251.0 L1081.0 251.4 L1081.7 251.8 L1082.4 252.2 L1083.2 252.7 L1084.0 253.2 L1084.7 253.8 L1085.5 254.4 L1086.3 255.0 L1087.0 255.6 L1087.8 256.2 L1088.5 256.9 L1089.2 257.5 L1089.9 258.2 L1090.5 258.9 L1091.2 259.6 L1091.8 260.3 L1092.5 261.0 L1093.1 261.8 L1093.7 262.6 L1094.4 263.4 L1095.0 264.3 L1095.7 265.1 L1096.3 266.1 L1097.0 267.0 L1097.7 268.0 L1098.4 269.0 L1099.1 270.0 L1099.8 271.1 L1100.5 272.2 L1101.2 273.3 L1101.9 274.4 L1102.6 275.6 L1103.3 276.8 L1104.0 278.1 L1104.7 279.4 L1105.4 280.8 L1106.1 282.3 L1106.8 283.8 L1107.5 285.3 L1108.3 286.9 L1109.0 288.5 L1109.7 290.1 L1110.3 291.8 L1111.0 293.5 L1111.6 295.2 L1112.3 296.9 L1112.9 298.6 L1113.4 300.2 L1113.9 301.8 L1114.4 303.4 L1114.9 304.9 L1115.4 306.5 L1115.8 308.1 L1116.3 309.8 L1116.7 311.6 L1117.2 313.6 L1117.7 315.7 L1118.2 318.0 L1118.8 320.6 L1119.4 323.4 L1120.1 326.4 L1120.8 329.6 L1121.5 333.0 L1122.3 336.6 L1123.0 340.2 L1123.8 343.9 L1124.5 347.6 L1125.2 351.3 L1125.9 355.0 L1126.5 358.6 L1127.0 362.1 L1127.5 365.5 L1128.0 369.0 L1128.4 372.4 L1128.8 375.8 L1129.2 379.3 L1129.5 382.7 L1129.8 386.2 L1130.2 389.6 L1130.4 393.1 L1130.7 396.6 L1131.0 400.0 L1131.3 403.5 L1131.5 406.9 L1131.7 410.4 L1132.0 413.9 L1132.2 417.3 L1132.4 420.8 L1132.5 424.3 L1132.7 427.7 L1132.9 431.2 L1133.0 434.7 L1133.1 438.1 L1133.2 441.6 L1133.3 445.1 L1133.4 448.5 L1133.5 452.0 L1133.5 455.5 L1133.6 458.9 L1133.6 462.4 L1133.6 465.9 L1133.6 469.3 L1133.6 472.8 L1133.6 476.2 L1133.5 479.7 L1133.4 483.2 L1133.3 486.6 L1133.2 490.1 L1133.0 493.5 L1132.8 497.0 L1132.6 500.4 L1132.4 503.9 L1132.2 507.3 L1131.9 510.8 L1131.6 514.2 L1131.3 517.7 L1131.0 521.1 L1130.7 524.6 L1130.4 528.1 L1130.1 531.5 L1129.7 535.0 L1129.4 538.5 L1129.0 541.9 L1128.6 545.4 L1128.2 548.8 L1127.8 552.3 L1127.3 555.8 L1126.9 559.2 L1126.5 562.7 L1126.0 566.2 L1125.6 569.7 L1125.1 573.2 L1124.6 576.8 L1124.2 580.4 L1123.7 584.1 L1123.2 587.8 L1122.7 591.5 L1122.2 595.1 L1121.6 598.6 L1121.1 602.0 L1120.6 605.3 L1120.1 608.5 L1119.5 611.5 L1119.0 614.3 L1118.5 617.0 L1118.0 619.5 L1117.5 621.9 L1117.0 624.2 L1116.5 626.5 L1115.9 628.6 L1115.4 630.8 L1114.8 632.9 L1114.2 635.1 L1113.6 637.2 L1113.0 639.4 L1112.3 641.6 L1111.6 643.8 L1110.9 646.0 L1110.2 648.2 L1109.5 650.3 L1108.7 652.4 L1108.0 654.5 L1107.2 656.6 L1106.4 658.7 L1105.5 660.7 L1104.7 662.7 L1103.8 664.7 L1102.9 666.7 L1101.9 668.6 L1100.9 670.6 L1099.9 672.6 L1098.8 674.5 L1097.7 676.4 L1096.6 678.3 L1095.5 680.1 L1094.5 681.9 L1093.4 683.6 L1092.4 685.2 L1091.4 686.7 L1090.4 688.1 L1089.5 689.5 L1088.6 690.8 L1087.8 692.1 L1087.0 693.2 L1086.1 694.3 L1085.4 695.2 L1084.6 696.1 L1083.8 696.9 L1083.1 697.6 L1082.3 698.2 L1081.6 698.7 L1080.8 699.2 L1080.0 699.6 L1079.1 700.0 L1078.3 700.3 L1077.4 700.6 L1076.4 700.9 L1075.5 701.1 L1074.5 701.2 L1073.5 701.3 L1072.6 701.4 L1071.6 701.4 L1070.6 701.5 L1069.6 701.4 L1068.7 701.4 L1067.7 701.3 L1066.7 701.2 L1065.8 701.1 L1064.9 700.9 L1064.0 700.6 L1063.0 700.3 L1062.1 700.0 L1061.3 699.6 L1060.4 699.2 L1059.5 698.7 L1058.6 698.1 L1057.7 697.4 L1056.7 696.6 L1055.8 695.8 L1054.8 694.9 L1053.9 693.9 L1052.9 692.9 L1052.0 691.8 L1051.0 690.6 L1050.1 689.4 L1049.1 688.1 L1048.2 686.7 L1047.3 685.2 L1046.4 683.7 L1045.4 682.1 L1044.5 680.3 L1043.6 678.5 L1042.7 676.7 L1041.8 674.8 L1040.9 672.8 L1040.0 670.8 L1039.2 668.8 L1038.3 666.8 L1037.4 664.8 L1036.6 662.8 L1035.8 660.8 L1035.0 658.7 L1034.2 656.6 L1033.4 654.6 L1032.6 652.4 L1031.9 650.3 L1031.1 648.2 L1030.4 646.0 L1029.7 643.8 L1029.0 641.6 L1028.3 639.4 L1027.7 637.2 L1027.0 635.0 L1026.4 632.9 L1025.8 630.7 L1025.2 628.6 L1024.7 626.4 L1024.1 624.2 L1023.6 621.9 L1023.0 619.5 L1022.5 617.0 L1022.0 614.3 L1021.5 611.5 L1020.9 608.5 L1020.4 605.4 L1019.9 602.0 L1019.4 598.6 L1019.0 595.1 L1018.5 591.5 L1018.0 587.8 L1017.5 584.1 L1017.1 580.5 L1016.6 576.8 L1016.1 573.2 L1015.6 569.6 L1015.1 566.1 L1014.6 562.7 L1014.1 559.2 L1013.6 555.7 L1013.1 552.2 L1012.6 548.8 L1012.1 545.3 L1011.6 541.9 L1011.1 538.4 L1010.7 535.0 L1010.3 531.5 L1010.0 528.1 L1009.7 524.6 L1009.4 521.2 L1009.2 517.7 L1008.9 514.3 L1008.7 510.8 L1008.6 507.4 L1008.4 503.9 L1008.3 500.5 L1008.2 497.0 L1008.1 493.6 L1008.0 490.1 L1007.9 486.7 L1007.8 483.2 L1007.8 479.7 L1007.8 476.3 L1007.8 472.8 L1007.8 469.3 L1007.8 465.9 L1007.9 462.4 L1007.9 459.0 L1008.0 455.5 L1008.1 452.0 L1008.2 448.6 L1008.3 445.1 L1008.4 441.6 L1008.6 438.1 L1008.7 434.7 L1008.9 431.2 L1009.0 427.7 L1009.2 424.3 L1009.4 420.8 L1009.6 417.4 L1009.9 413.9 L1010.2 410.4 L1010.5 407.0 L1010.8 403.5 L1011.1 400.1 L1011.5 396.6 L1012.0 393.1 L1012.4 389.6 L1012.9 386.1 L1013.4 382.6 L1013.9 379.1 L1014.4 375.6 L1014.9 372.2 L1015.5 368.8 L1016.0 365.4 L1016.5 362.1 L1017.0 358.9 L1017.6 355.8 L1018.1 352.7 L1018.6 349.6 L1019.2 346.6 L1019.8 343.6 L1020.3 340.6 L1020.9 337.6 L1021.5 334.7 L1022.1 331.7 L1022.8 328.7 L1023.4 325.6 L1024.1 322.5 L1024.9 319.3 L1025.6 316.0 L1026.4 312.6 L1027.2 309.3 L1028.0 306.0 L1028.8 302.7 L1029.6 299.6 L1030.4 296.6 L1031.2 293.8 L1032.0 291.1 L1032.7 288.8 L1033.5 286.7 L1034.2 284.8 L1035.0 283.2 L1035.7 281.6 L1036.5 280.2 L1037.2 278.9 L1038.0 277.7 L1038.7 276.5 L1039.5 275.3 L1040.3 274.1 L1041.1 272.8 L1042.0 271.5 L1042.8 270.2 L1043.6 268.9 L1044.4 267.7 L1045.2 266.4 L1046.0 265.3 L1046.8 264.1 L1047.6 263.0 L1048.4 262.0 L1049.2 260.9 L1050.0 260.0 L1050.7 259.1 L1051.5 258.2 L1052.3 257.4 L1053.0 256.7 L1053.7 256.0 L1054.4 255.3 L1055.2 254.7 L1055.9 254.1 L1056.6 253.6 L1057.3 253.1 L1058.0 252.6 L1058.8 252.2 L1059.5 251.7 L1060.3 251.3 L1061.0 251.0 L1061.8 250.6 L1062.6 250.3 L1063.4 250.0 L1064.2 249.8 L1065.0 249.6 L1065.8 249.4 L1066.7 249.2 L1067.5 249.1 L1068.3 249.0 L1069.1 248.9 Z M1068.6 242.0 L1067.6 242.0 L1066.5 242.2 L1065.4 242.3 L1064.4 242.5 L1063.3 242.8 L1062.3 243.1 L1061.2 243.4 L1060.2 243.8 L1059.1 244.2 L1058.1 244.6 L1057.1 245.1 L1056.2 245.6 L1055.2 246.1 L1054.3 246.7 L1053.4 247.3 L1052.4 247.9 L1051.5 248.6 L1050.7 249.3 L1049.8 250.1 L1048.9 250.9 L1048.0 251.7 L1047.2 252.6 L1046.3 253.6 L1045.4 254.6 L1044.6 255.6 L1043.7 256.7 L1042.9 257.9 L1042.1 259.1 L1041.2 260.3 L1040.4 261.5 L1039.6 262.8 L1038.8 264.1 L1038.0 265.4 L1037.2 266.8 L1036.4 268.1 L1035.7 269.4 L1034.9 270.6 L1034.1 271.8 L1033.3 273.1 L1032.5 274.4 L1031.7 275.8 L1030.9 277.2 L1030.1 278.8 L1029.3 280.6 L1028.5 282.4 L1027.7 284.5 L1026.9 286.8 L1026.1 289.3 L1025.3 292.0 L1024.4 294.9 L1023.6 298.0 L1022.8 301.2 L1022.0 304.5 L1021.2 307.9 L1020.4 311.2 L1019.7 314.6 L1018.9 318.0 L1018.2 321.2 L1017.6 324.4 L1016.9 327.4 L1016.3 330.5 L1015.7 333.5 L1015.2 336.5 L1014.6 339.5 L1014.1 342.6 L1013.6 345.6 L1013.1 348.6 L1012.6 351.7 L1012.1 354.9 L1011.6 358.0 L1011.1 361.3 L1010.6 364.6 L1010.1 367.9 L1009.6 371.4 L1009.1 374.8 L1008.6 378.3 L1008.1 381.8 L1007.6 385.4 L1007.2 388.9 L1006.7 392.5 L1006.3 396.0 L1006.0 399.5 L1005.6 403.1 L1005.3 406.5 L1005.0 410.0 L1004.8 413.5 L1004.5 417.0 L1004.3 420.5 L1004.1 424.0 L1004.0 427.5 L1003.8 431.0 L1003.7 434.5 L1003.5 438.0 L1003.4 441.4 L1003.3 444.9 L1003.2 448.4 L1003.1 451.9 L1003.0 455.4 L1002.9 458.9 L1002.9 462.3 L1002.8 465.8 L1002.8 469.3 L1002.8 472.8 L1002.8 476.3 L1002.8 479.8 L1002.8 483.3 L1002.9 486.7 L1003.0 490.2 L1003.1 493.7 L1003.2 497.2 L1003.3 500.7 L1003.4 504.1 L1003.6 507.6 L1003.8 511.1 L1004.0 514.6 L1004.2 518.1 L1004.5 521.5 L1004.7 525.0 L1005.0 528.5 L1005.3 532.0 L1005.7 535.5 L1006.1 539.0 L1006.5 542.5 L1006.9 546.0 L1007.4 549.5 L1007.9 553.0 L1008.3 556.4 L1008.8 559.9 L1009.3 563.4 L1009.7 566.9 L1010.2 570.4 L1010.6 573.9 L1011.0 577.5 L1011.5 581.1 L1011.9 584.8 L1012.3 588.5 L1012.8 592.2 L1013.2 595.8 L1013.7 599.4 L1014.1 602.9 L1014.6 606.2 L1015.1 609.5 L1015.5 612.5 L1016.0 615.4 L1016.5 618.1 L1017.0 620.7 L1017.6 623.2 L1018.1 625.6 L1018.6 627.9 L1019.1 630.2 L1019.7 632.4 L1020.3 634.6 L1020.8 636.8 L1021.5 639.0 L1022.1 641.2 L1022.7 643.5 L1023.4 645.8 L1024.1 648.0 L1024.8 650.2 L1025.5 652.5 L1026.3 654.7 L1027.0 656.8 L1027.8 659.0 L1028.6 661.1 L1029.4 663.3 L1030.2 665.3 L1031.0 667.4 L1031.7 669.5 L1032.6 671.5 L1033.4 673.6 L1034.2 675.7 L1035.0 677.7 L1035.9 679.8 L1036.8 681.7 L1037.7 683.7 L1038.6 685.6 L1039.5 687.5 L1040.4 689.2 L1041.4 690.9 L1042.4 692.5 L1043.4 694.0 L1044.4 695.5 L1045.4 697.0 L1046.5 698.3 L1047.5 699.6 L1048.6 700.9 L1049.7 702.1 L1050.9 703.2 L1052.1 704.2 L1053.3 705.2 L1054.5 706.1 L1055.8 707.0 L1057.1 707.8 L1058.5 708.4 L1059.8 709.0 L1061.2 709.5 L1062.6 709.9 L1063.9 710.3 L1065.3 710.5 L1066.6 710.7 L1068.0 710.8 L1069.3 710.9 L1070.6 711.0 L1071.9 710.9 L1073.2 710.8 L1074.6 710.7 L1076.0 710.5 L1077.3 710.3 L1078.7 709.9 L1080.1 709.5 L1081.5 709.0 L1082.9 708.4 L1084.2 707.7 L1085.5 706.9 L1086.8 706.1 L1088.0 705.1 L1089.2 704.0 L1090.2 702.9 L1091.2 701.8 L1092.1 700.6 L1093.0 699.3 L1093.9 698.0 L1094.7 696.7 L1095.6 695.3 L1096.4 693.9 L1097.3 692.4 L1098.2 690.9 L1099.1 689.3 L1100.1 687.6 L1101.1 685.8 L1102.2 683.9 L1103.2 682.0 L1104.3 680.0 L1105.3 678.0 L1106.3 675.9 L1107.4 673.8 L1108.3 671.7 L1109.3 669.6 L1110.2 667.5 L1111.1 665.4 L1111.9 663.3 L1112.7 661.2 L1113.5 659.0 L1114.3 656.8 L1115.1 654.7 L1115.8 652.5 L1116.5 650.2 L1117.2 648.0 L1117.9 645.7 L1118.6 643.5 L1119.2 641.2 L1119.8 638.9 L1120.4 636.7 L1121.0 634.5 L1121.5 632.3 L1122.0 630.1 L1122.6 627.9 L1123.0 625.5 L1123.5 623.2 L1124.0 620.7 L1124.5 618.1 L1125.0 615.4 L1125.5 612.5 L1125.9 609.5 L1126.4 606.2 L1126.9 602.9 L1127.4 599.4 L1127.9 595.9 L1128.4 592.2 L1128.8 588.5 L1129.3 584.8 L1129.7 581.2 L1130.2 577.5 L1130.6 573.9 L1131.0 570.3 L1131.4 566.8 L1131.8 563.4 L1132.2 559.9 L1132.6 556.4 L1133.0 552.9 L1133.4 549.4 L1133.7 545.9 L1134.1 542.5 L1134.4 539.0 L1134.8 535.5 L1135.1 532.0 L1135.4 528.5 L1135.7 525.1 L1136.0 521.6 L1136.3 518.1 L1136.6 514.6 L1136.9 511.2 L1137.1 507.7 L1137.4 504.2 L1137.6 500.7 L1137.8 497.2 L1138.0 493.8 L1138.2 490.3 L1138.3 486.8 L1138.4 483.3 L1138.5 479.8 L1138.6 476.3 L1138.6 472.8 L1138.6 469.3 L1138.6 465.9 L1138.6 462.4 L1138.6 458.9 L1138.5 455.4 L1138.5 451.9 L1138.4 448.4 L1138.3 444.9 L1138.2 441.5 L1138.1 438.0 L1138.0 434.5 L1137.8 431.0 L1137.7 427.5 L1137.5 424.0 L1137.3 420.5 L1137.2 417.0 L1136.9 413.6 L1136.7 410.1 L1136.5 406.6 L1136.2 403.1 L1136.0 399.6 L1135.7 396.2 L1135.5 392.7 L1135.2 389.2 L1134.9 385.7 L1134.6 382.3 L1134.3 378.8 L1133.9 375.3 L1133.5 371.8 L1133.1 368.3 L1132.7 364.8 L1132.2 361.3 L1131.6 357.8 L1131.0 354.1 L1130.4 350.4 L1129.7 346.6 L1129.0 342.8 L1128.3 339.1 L1127.5 335.5 L1126.8 331.9 L1126.1 328.5 L1125.4 325.3 L1124.8 322.2 L1124.2 319.4 L1123.6 316.9 L1123.2 314.5 L1122.7 312.3 L1122.2 310.3 L1121.8 308.5 L1121.4 306.7 L1121.0 305.0 L1120.6 303.3 L1120.1 301.7 L1119.6 300.1 L1119.1 298.4 L1118.5 296.6 L1117.9 294.8 L1117.3 293.1 L1116.6 291.3 L1115.9 289.5 L1115.2 287.8 L1114.5 286.1 L1113.7 284.5 L1113.0 282.8 L1112.2 281.2 L1111.5 279.7 L1110.8 278.2 L1110.1 276.8 L1109.4 275.3 L1108.7 274.0 L1108.0 272.6 L1107.3 271.4 L1106.6 270.1 L1105.9 268.9 L1105.2 267.7 L1104.5 266.6 L1103.8 265.5 L1103.1 264.4 L1102.4 263.3 L1101.7 262.3 L1100.9 261.3 L1100.2 260.4 L1099.5 259.4 L1098.8 258.5 L1098.1 257.7 L1097.4 256.8 L1096.7 256.0 L1096.0 255.2 L1095.2 254.4 L1094.5 253.6 L1093.7 252.9 L1092.9 252.1 L1092.1 251.4 L1091.3 250.7 L1090.5 249.9 L1089.7 249.2 L1088.8 248.5 L1088.0 247.8 L1087.1 247.1 L1086.2 246.5 L1085.3 245.9 L1084.3 245.3 L1083.3 244.8 L1082.3 244.3 L1081.3 243.9 L1080.3 243.5 L1079.2 243.1 L1078.2 242.9 L1077.1 242.6 L1076.1 242.4 L1075.0 242.2 L1073.9 242.1 L1072.9 242.0 L1071.8 241.9 L1070.7 241.9 L1069.7 241.9 Z"/>
</g>
</svg>
</body></html>
